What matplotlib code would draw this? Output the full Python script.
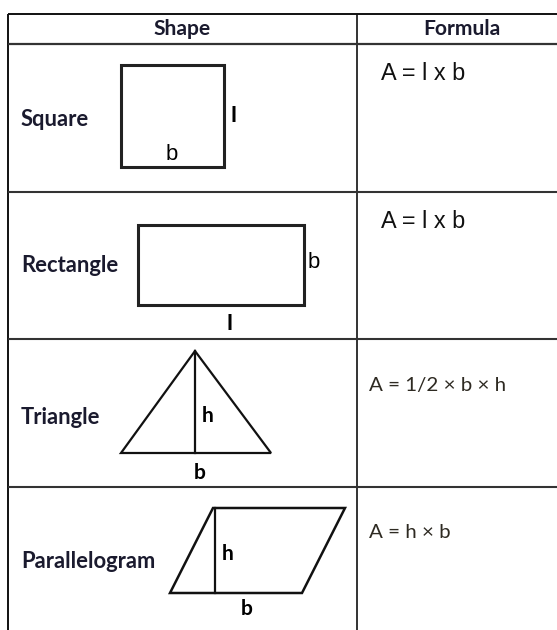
import matplotlib
matplotlib.use("Agg")
import matplotlib.pyplot as plt
from matplotlib.patches import Polygon

# ---- content ----
headers = ["Shape", "Formula"]
row_names = ["Square", "Rectangle", "Triangle", "Parallelogram"]
formulas = ["A = l x b", "A = l x b", "A = 1/2 \u00d7 b \u00d7 h", "A = h \u00d7 b"]

# geometry in pixel space (figure is 557 x 630 px)
W, H = 557, 630
table_left, table_top, col_div = 8, 14, 357
header_bottom = 44
row_lines = [192, 339, 487]
row_label_y = [119, 266, 417, 562]
formula_y = [73, 222, 385, 533]

square = [(121, 65), (224, 65), (224, 167), (121, 167)]
rect = [(138, 225), (304, 225), (304, 305), (138, 305)]
tri = [(195, 351), (271, 453), (121, 453)]
para = [(213, 508), (345, 508), (302, 593), (170, 593)]

fig = plt.figure(figsize=(W / 100, H / 100), dpi=100)
ax = fig.add_axes([0, 0, 1, 1])
ax.set_xlim(0, W)
ax.set_ylim(H, 0)
ax.axis("off")

def px(p):
    return p * 0.72

lab_font = "Lato"
arial = "Liberation Sans"
lc = "#111111"

# table lines
ax.plot([table_left, W], [table_top, table_top], color=lc, lw=1.4, solid_capstyle="butt")
ax.plot([table_left, table_left], [table_top, H], color=lc, lw=1.4, solid_capstyle="butt")
ax.plot([col_div, col_div], [table_top, H], color=lc, lw=1.2, solid_capstyle="butt")
ax.plot([table_left, W], [header_bottom, header_bottom], color="#333333", lw=1.6, solid_capstyle="butt")
for y in row_lines:
    ax.plot([table_left, W], [y, y], color="#333333", lw=1.5, solid_capstyle="butt")

# headers
ax.text((table_left + col_div) / 2, 29, headers[0], ha="center", va="center",
        fontsize=px(21), fontweight="bold", family=lab_font, color="#1a1a2e")
ax.text(462, 29, headers[1], ha="center", va="center",
        fontsize=px(21), fontweight="bold", family=lab_font, color="#1a1a2e")

# row labels
for name, y in zip(row_names, row_label_y):
    ax.text(21, y, name, ha="left", va="center", fontsize=px(22),
            fontweight="bold", family=lab_font, color="#1a1a2e")

# formulas
for i, (f, y) in enumerate(zip(formulas, formula_y)):
    if i < 2:
        ax.text(381, y, f, ha="left", va="center", fontsize=px(23.5),
                family=arial, color="#111111")
    else:
        ax.text(369, y, f, ha="left", va="center", fontsize=px(20.5),
                family=lab_font, color="#2e2a22")

# shapes
ax.add_patch(Polygon(square, closed=True, fill=False, ec="#222222", lw=2.2, joinstyle="miter"))
ax.add_patch(Polygon(rect, closed=True, fill=False, ec="#222222", lw=2.2, joinstyle="miter"))
ax.add_patch(Polygon(tri, closed=True, fill=False, ec="#111111", lw=1.6, joinstyle="miter"))
ax.plot([tri[0][0], tri[0][0]], [tri[0][1], tri[1][1]], color="#111111", lw=1.6)
ax.add_patch(Polygon(para, closed=True, fill=False, ec="#111111", lw=1.8, joinstyle="miter"))
ax.plot([para[0][0] + 2, para[0][0] + 2], [para[0][1], para[3][1]], color="#111111", lw=1.6)

# shape labels
ax.text(233, 116, "l", ha="center", va="center", fontsize=px(22), family=arial, fontweight="bold")
ax.text(172, 155, "b", ha="center", va="center", fontsize=px(22), family=arial)
ax.text(314, 262, "b", ha="center", va="center", fontsize=px(22), family=arial)
ax.text(229, 324, "l", ha="center", va="center", fontsize=px(22), family=arial, fontweight="bold")
ax.text(208, 416, "h", ha="center", va="center", fontsize=px(21), family=lab_font, fontweight="bold")
ax.text(200, 473, "b", ha="center", va="center", fontsize=px(21), family=lab_font, fontweight="bold")
ax.text(228, 554, "h", ha="center", va="center", fontsize=px(21), family=lab_font, fontweight="bold")
ax.text(247, 609, "b", ha="center", va="center", fontsize=px(21), family=lab_font, fontweight="bold")

fig.savefig("out.png", dpi=100, facecolor="white")
